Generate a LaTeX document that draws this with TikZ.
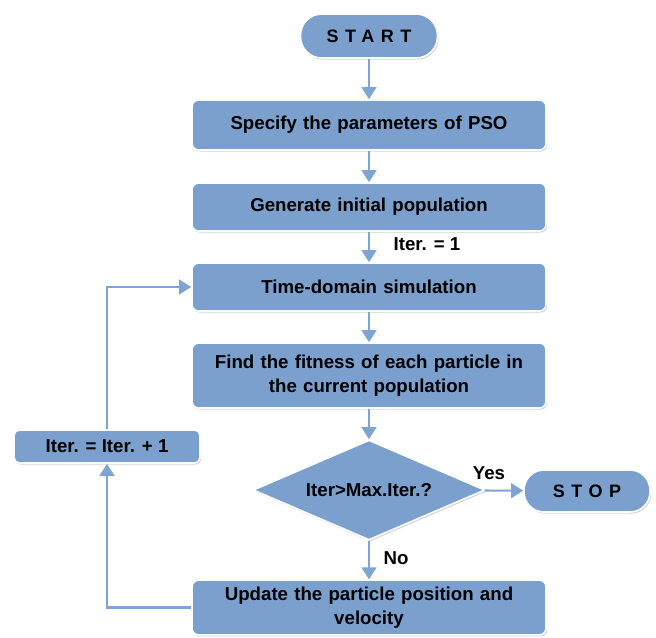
\documentclass[tikz,border=0pt]{standalone}
\usepackage{fontspec}
\setmainfont{Liberation Sans}
\newfontfamily\spacedfont[LetterSpace=36]{Liberation Sans}
\usetikzlibrary{shapes.geometric,arrows.meta,shadows}
\definecolor{boxblue}{HTML}{7BA0CD}
\definecolor{arrowblue}{HTML}{7FA4D2}
\begin{document}
\begin{tikzpicture}[x=0.75pt,y=-0.75pt,
  base/.style={fill=boxblue, draw=white, line width=1.2pt,
    drop shadow={shadow xshift=0.9pt,shadow yshift=-1.2pt,opacity=0.35},
    font=\bfseries\fontsize{14}{18.5}\selectfont, text=black, align=center, inner sep=2pt},
  procbox/.style={base, rectangle, rounded corners=5pt, minimum width=265.5pt, text width=258pt},
  term/.style={base, rectangle, font=\spacedfont\bfseries\fontsize{13.5}{15}\selectfont},
  decision/.style={base, diamond, aspect=2.32, minimum width=174pt, minimum height=75pt, inner sep=0pt},
  arr/.style={draw=arrowblue, line width=1.6pt, -{Triangle[width=11pt,length=9pt]}},
  lbl/.style={font=\bfseries\fontsize{14}{16.5}\selectfont, text=black, inner sep=0pt}
]
\useasboundingbox (0,0) rectangle (656,637);
\node[term, minimum width=102.75pt, minimum height=33pt, rounded corners=16pt] (start) at (369,36) {START};
\node[procbox, minimum height=37.5pt] (b1) at (369,125) {Specify the parameters of PSO};
\node[procbox, minimum height=36pt] (b2) at (369,207) {Generate initial population};
\node[procbox, minimum height=36pt] (b3) at (369,287) {Time-domain simulation};
\node[procbox, minimum height=48.75pt] (b4) at (369,375.5) {Find the fitness of each particle in\\the current population};
\node[decision] (d) at (369,490) {Iter>Max.Iter.?};
\node[term, minimum width=94.5pt, minimum height=31.5pt, rounded corners=15pt] (stop) at (587,491) {STOP};
\node[procbox, minimum height=41pt] (b5) at (369,607.5) {Update the particle position and\\velocity};
\node[base, rectangle, rounded corners=4pt, minimum width=139.5pt, minimum height=24.75pt] (b6) at (107,446.5) {Iter. = Iter. + 1};
\node[lbl] (l1) at (427,244) {Iter. = 1};
\node[lbl] (lyes) at (489,473) {Yes};
\node[lbl] (lno) at (396,558) {No};
\draw[arr] (start) -- (b1);
\draw[arr] (b1) -- (b2);
\draw[arr] (b2) -- (b3);
\draw[arr] (b3) -- (b4);
\draw[arr] (b4) -- (d);
\draw[arr] (d) -- (stop);
\draw[arr] (d) -- (b5);
\draw[arr] (b5.west) -| (b6.south);
\draw[arr] (b6.north) |- (b3.west);
\end{tikzpicture}
\end{document}
